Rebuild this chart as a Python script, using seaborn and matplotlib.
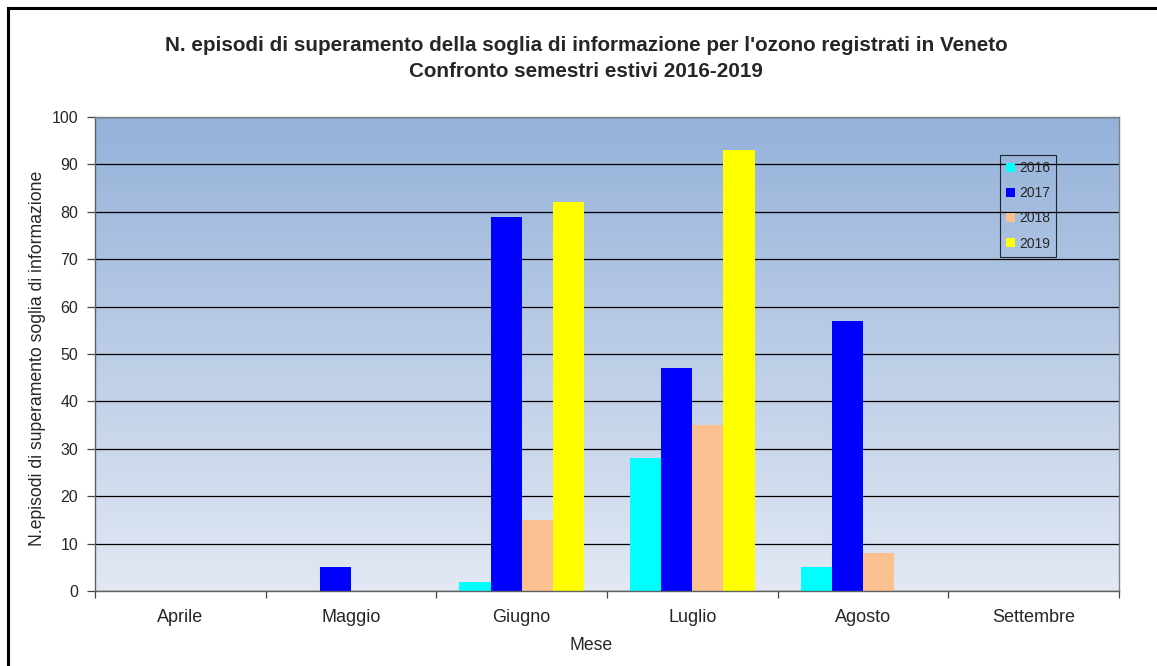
import numpy as np
import pandas as pd
import matplotlib
matplotlib.use("Agg")
import matplotlib.pyplot as plt
import seaborn as sns
from matplotlib.patches import Rectangle
from matplotlib.ticker import MultipleLocator, FixedLocator

months = ["Aprile", "Maggio", "Giugno", "Luglio", "Agosto", "Settembre"]
years = ["2016", "2017", "2018", "2019"]
v2016 = [0, 0, 2, 28, 5, 0]
v2017 = [0, 5, 79, 47, 57, 0]
v2018 = [0, 0, 15, 35, 8, 0]
v2019 = [0, 0, 82, 93, 0, 0]
colors = ["#00FFFF", "#0000FF", "#FAC090", "#FFFF00"]

title = ("N. episodi di superamento della soglia di informazione per l'ozono registrati in Veneto\n"
         "Confronto semestri estivi 2016-2019")
xlabel = "Mese"
ylabel = "N.episodi di superamento soglia di informazione"

rows = []
for y, vals in zip(years, [v2016, v2017, v2018, v2019]):
    for m, v in zip(months, vals):
        rows.append({"Mese": m, "Anno": y, "Valore": v})
df = pd.DataFrame(rows)

sns.set_theme(style="white")
plt.rcParams["font.family"] = ["Liberation Sans", "DejaVu Sans"]

fig = plt.figure(figsize=(11.57, 6.66), dpi=100)
ax = fig.add_axes([95/1157, 1-591/666, (1119-95)/1157, (591-117)/666])

# gradient background
top = np.array([149, 178, 218]) / 255
bot = np.array([226, 232, 244]) / 255
t = np.linspace(0, 1, 256)[:, None]
grad = (top[None, :] * (1 - t) + bot[None, :] * t)[:, None, :]
ax.imshow(grad, extent=[0, 1, 0, 1], transform=ax.transAxes, aspect="auto", zorder=0)

sns.barplot(data=df, x="Mese", y="Valore", hue="Anno", order=months, hue_order=years,
            palette=colors, width=0.73, saturation=1, ax=ax, linewidth=0, zorder=2)

ax.set_xlim(-0.5, 5.5)
ax.set_ylim(0, 100)
ax.yaxis.set_major_locator(MultipleLocator(10))
ax.yaxis.grid(True, color="#000000", linewidth=0.9)
ax.set_axisbelow(True)
for gl in ax.get_ygridlines():
    gl.set_zorder(1)

ax.set_xticks(range(len(months)))
ax.set_xticklabels(months, fontsize=13)
ax.xaxis.set_minor_locator(FixedLocator(np.arange(-0.5, 6, 1)))
ax.tick_params(axis="x", which="major", length=0, pad=13)
ax.tick_params(axis="x", which="minor", length=5, width=0.9, color="#444444", direction="out", bottom=True)
ax.tick_params(axis="y", which="major", length=6, width=0.9, color="#444444", direction="out", left=True,
               labelsize=11.5, pad=6)
for s in ax.spines.values():
    s.set_color("#808080")
    s.set_linewidth(1.0)
    s.set_visible(True)
ax.spines["left"].set_color("#606060")
ax.spines["bottom"].set_color("#606060")

ax.set_xlabel(xlabel, fontsize=12.7)
ax.xaxis.set_label_coords((591 - 95) / 1024, -(637 - 591) / 474)
ax.set_ylabel(ylabel, fontsize=12.7)
ax.yaxis.set_label_coords(-(95 - 46) / 1024, (591 - 358) / 474)

fig.text(586/1157, 1-58.5/666, title, ha="center", va="center", fontsize=14.9,
         fontweight="bold", linespacing=1.45)

leg = ax.legend(loc="upper left", bbox_to_anchor=(0.884, 0.92), frameon=True, fontsize=10,
                handlelength=0.6, handleheight=0.6, handletextpad=0.3, labelspacing=0.8,
                borderpad=0.45, borderaxespad=0, fancybox=False, title=None)
leg.get_frame().set_edgecolor("#000000")
leg.get_frame().set_linewidth(0.8)
leg.get_frame().set_facecolor("none")

# figure border
fig.patches.append(Rectangle((8/1157, -0.05), 1.2, 1 - 8/666 + 0.05, transform=fig.transFigure,
                             fill=False, edgecolor="black", linewidth=2.2, clip_on=False))

fig.savefig("out.png", dpi=100)
